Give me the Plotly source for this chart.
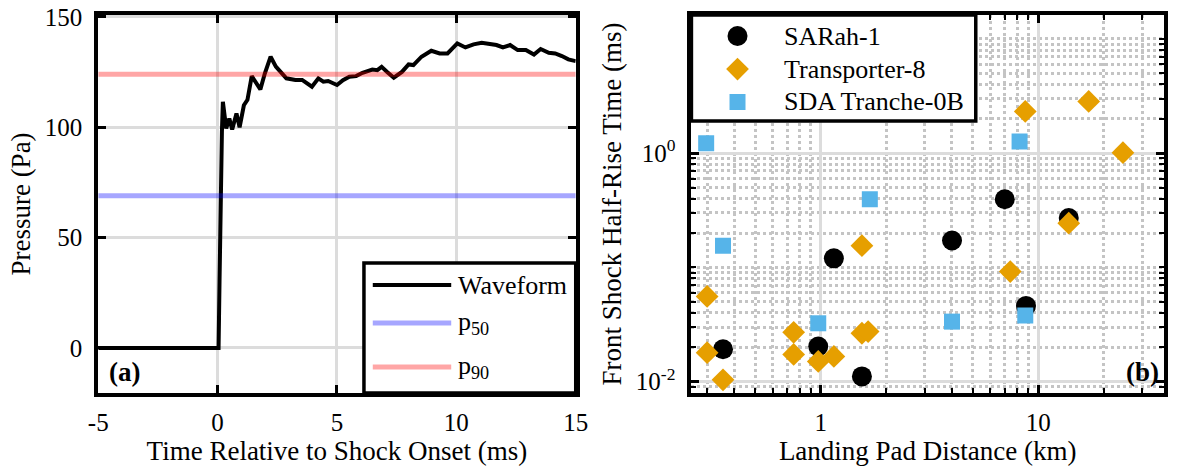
import plotly.graph_objects as go

# ---- Panel (a): pressure waveform around the shock onset ----
time_ms = [-5, 0.04, 0.08, 0.12, 0.18, 0.22, 0.36, 0.49, 0.61, 0.79, 0.92, 1.1, 1.25,
           1.43, 1.58, 1.79, 1.98, 2.22, 2.44, 2.71, 2.88, 3.26, 3.54, 3.95, 4.22,
           4.43, 4.63, 5.0, 5.25, 5.52, 5.8, 6.07, 6.48, 6.69, 6.87, 7.1, 7.38, 7.72,
           8.0, 8.2, 8.54, 8.95, 9.3, 9.63, 10.04, 10.38, 10.72, 11.06, 11.4, 11.68,
           11.95, 12.25, 12.57, 12.91, 13.25, 13.53, 13.87, 14.14, 14.42, 14.69, 15.0]
pressure_pa = [0, 0, 30, 69, 98, 111.6, 99.5, 104, 99, 106.3, 100, 110, 112.5,
               123.2, 120.6, 117.2, 124.5, 132, 127.5, 124.5, 122.2, 121.5, 121.5, 118.4, 122.2,
               120.7, 121, 119.2, 121.4, 122.9, 123.2, 124.7, 126.2, 125.9, 127.4, 125.1, 122.5, 125.1,
               128.5, 128.2, 132, 134.7, 133.5, 133.5, 138, 136.2, 137.6, 138.3, 137.7, 137.3,
               136.2, 137.3, 135, 135, 133, 135.5, 133.8, 133.5, 132.3, 130.8, 130]
p50_pa = 69
p90_pa = 124
time_span = [-5, 15]

# ---- Panel (b): front shock half-rise time vs landing pad distance ----
sarah_km = [0.355, 0.973, 1.545, 1.148, 4.01, 7.01, 8.78, 13.8]
sarah_ms = [0.0192, 0.0203, 0.0111, 0.120, 0.172, 0.395, 0.046, 0.27]
trans_km = [0.3, 0.3, 0.355, 0.75, 0.75, 0.973, 1.148, 1.545, 1.65, 1.545, 7.43, 8.71, 13.8, 17.05, 24.5]
trans_ms = [0.0556, 0.0179, 0.01035, 0.027, 0.0173, 0.015, 0.0166, 0.0265, 0.0274, 0.155, 0.092,
            2.32, 0.244, 2.84, 1.01]
sda_km = [0.297, 0.355, 0.973, 1.68, 4.01, 8.2, 8.71]
sda_ms = [1.22, 0.155, 0.0324, 0.395, 0.0335, 1.265, 0.0379]

W, H = 1178, 469
TOP, BOTTOM = 15, 393
FONT = "Liberation Serif, Times New Roman, serif"
ORANGE = "#E69F00"
SKY = "#56B4E9"
GRID = "#dcdcdc"


def px(x):
    return x / W


def py(y):
    return (BOTTOM - y) / (BOTTOM - TOP)


def text_font(size):
    return dict(family=FONT, size=size, color="black")


fig = go.Figure()

fig.add_trace(go.Scatter(x=time_ms, y=pressure_pa, mode="lines",
                         line=dict(color="black", width=4), name="Waveform",
                         showlegend=False, xaxis="x", yaxis="y"))
fig.add_trace(go.Scatter(x=time_span, y=[p50_pa, p50_pa], mode="lines",
                         line=dict(color="rgba(0,0,255,0.35)", width=5), name="p50",
                         showlegend=False, xaxis="x", yaxis="y"))
fig.add_trace(go.Scatter(x=time_span, y=[p90_pa, p90_pa], mode="lines",
                         line=dict(color="rgba(255,0,0,0.35)", width=5), name="p90",
                         showlegend=False, xaxis="x", yaxis="y"))

CIRCLE_SIZE, DIAMOND_SIZE, SQUARE_SIZE = 20, 17.5, 16
fig.add_trace(go.Scatter(x=sarah_km, y=sarah_ms, mode="markers", name="SARah-1",
                         marker=dict(symbol="circle", size=CIRCLE_SIZE, color="black", line=dict(width=0)),
                         showlegend=False, xaxis="x2", yaxis="y2"))
fig.add_trace(go.Scatter(x=trans_km, y=trans_ms, mode="markers", name="Transporter-8",
                         marker=dict(symbol="diamond", size=DIAMOND_SIZE, color=ORANGE, line=dict(width=0)),
                         showlegend=False, xaxis="x2", yaxis="y2"))
fig.add_trace(go.Scatter(x=sda_km, y=sda_ms, mode="markers", name="SDA Tranche-0B",
                         marker=dict(symbol="square", size=SQUARE_SIZE, color=SKY, line=dict(width=0)),
                         showlegend=False, xaxis="x2", yaxis="y2"))

axis_common = dict(showline=True, linewidth=4, linecolor="black", mirror="ticks",
                   ticks="inside", ticklen=8, tickwidth=3, tickcolor="black",
                   showgrid=True, gridcolor=GRID, gridwidth=3, zeroline=False,
                   tickfont=text_font(25))

minor_x = [0.3, 0.4, 0.5, 0.6, 0.7, 0.8, 0.9, 2, 3, 4, 5, 6, 7, 8, 9, 20, 30]
minor_y = [0.008, 0.009, 0.02, 0.03, 0.04, 0.05, 0.06, 0.07, 0.08, 0.09, 0.1,
           0.2, 0.3, 0.4, 0.5, 0.6, 0.7, 0.8, 0.9, 2, 3, 4, 5, 6, 7, 8, 9, 10]
minor_style = dict(ticks="inside", ticklen=5, tickwidth=2, tickcolor="black",
                   showgrid=True, gridcolor="#c4c4c4", gridwidth=2.5, griddash="dot")

fig.update_layout(
    width=W, height=H,
    margin=dict(l=0, r=0, t=TOP, b=H - BOTTOM),
    paper_bgcolor="white", plot_bgcolor="white",
    font=text_font(26),
    showlegend=False,
    xaxis=dict(domain=[px(90), px(577)], range=[-5, 15], tickvals=[-5, 0, 5, 10, 15],
               ticktext=["-5", "0", "5", "10", "15"], anchor="y", ticklabelstandoff=4,
               title=dict(text="Time Relative to Shock Onset (ms)", font=text_font(27), standoff=5),
               **axis_common),
    yaxis=dict(domain=[0, 1], range=[-20.4, 150.9], tickvals=[0, 50, 100, 150], anchor="x",
               ticklabelstandoff=7,
               title=dict(text="Pressure (Pa)", font=text_font(27), standoff=7),
               **axis_common),
    xaxis2=dict(domain=[px(695), px(1177)], type="log", range=[-0.595, 1.578],
                tickvals=[1, 10], ticktext=["1", "10"], anchor="y2", ticklabelstandoff=4,
                minor=dict(tickmode="array", tickvals=minor_x, **minor_style),
                title=dict(text="Landing Pad Distance (km)", font=text_font(27), standoff=5),
                **axis_common),
    yaxis2=dict(domain=[0, 1], type="log", range=[-2.10, 1.21],
                tickvals=[0.01, 1], ticktext=["10<sup>-2</sup>", "10<sup>0</sup>"], anchor="x2",
                ticklabelstandoff=7,
                minor=dict(tickmode="array", tickvals=minor_y, **minor_style),
                title=dict(text="Front Shock Half-Rise Time (ms)", font=text_font(27), standoff=7),
                **axis_common),
)

shapes = []
annotations = []


def label(text, x, y, size, anchor="left"):
    return dict(text=text, xref="paper", yref="paper", x=px(x), y=py(y),
                xanchor=anchor, yanchor="middle", showarrow=False, font=text_font(size))


# legend for panel (a)
shapes.append(dict(type="rect", xref="paper", yref="paper", layer="above",
                   x0=px(361), x1=px(577), y0=py(393), y1=py(263),
                   fillcolor="white", line=dict(color="black", width=3.5)))
legend_a = [("Waveform", "black", 4, 285),
            ("p<sub>50</sub>", "rgba(0,0,255,0.35)", 5, 323),
            ("p<sub>90</sub>", "rgba(255,0,0,0.35)", 5, 367)]
for text, color, width, y in legend_a:
    shapes.append(dict(type="line", xref="paper", yref="paper", layer="above",
                       x0=px(370), x1=px(450), y0=py(y), y1=py(y),
                       line=dict(color=color, width=width)))
    annotations.append(label(text, 455, y, 26))

# legend for panel (b)
shapes.append(dict(type="rect", xref="paper", yref="paper", layer="above",
                   x0=px(695), x1=px(985), y0=py(121), y1=py(15),
                   fillcolor="white", line=dict(color="black", width=3.5)))
mx = 742
r = CIRCLE_SIZE / 2
shapes.append(dict(type="circle", xref="paper", yref="paper", layer="above",
                   xsizemode="pixel", ysizemode="pixel", xanchor=px(mx), yanchor=py(36),
                   x0=-r, x1=r, y0=-r, y1=r, fillcolor="black", line=dict(width=0)))
d = DIAMOND_SIZE * 0.65
shapes.append(dict(type="path", xref="paper", yref="paper", layer="above",
                   xsizemode="pixel", ysizemode="pixel", xanchor=px(mx), yanchor=py(69),
                   path=f"M0,{d}L{d},0L0,{-d}L{-d},0Z", fillcolor=ORANGE, line=dict(width=0)))
s = SQUARE_SIZE / 2
shapes.append(dict(type="rect", xref="paper", yref="paper", layer="above",
                   xsizemode="pixel", ysizemode="pixel", xanchor=px(mx), yanchor=py(102),
                   x0=-s, x1=s, y0=-s, y1=s, fillcolor=SKY, line=dict(width=0)))
for text, y in [("SARah-1", 36), ("Transporter-8", 69), ("SDA Tranche-0B", 102)]:
    annotations.append(label(text, 787, y, 26))

annotations.append(label("<b>(a)</b>", 99, 372, 27))
annotations.append(label("<b>(b)</b>", 1174, 372, 27, anchor="right"))

fig.update_layout(shapes=shapes, annotations=annotations)

fig.write_html("out.html")
